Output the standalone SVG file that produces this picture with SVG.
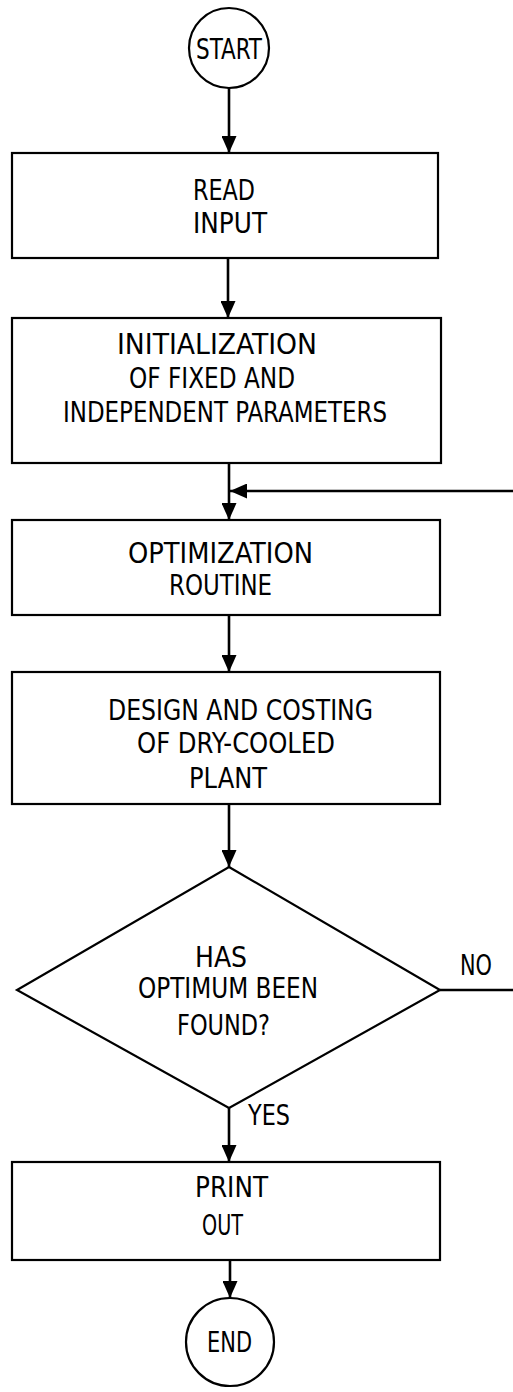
<svg xmlns="http://www.w3.org/2000/svg" width="513" height="1392" viewBox="0 0 513 1392">
  <style>
    .shape { fill: #fff; stroke: #000; stroke-width: 2.2; }
    .wire { fill: none; stroke: #000; stroke-width: 2.6; }
    .label { font-family: "Liberation Sans Narrow", "DejaVu Sans Condensed", "Liberation Sans", sans-serif; font-size: 28px; fill: #000; }
  </style>
  <defs>
    <marker id="arrow" markerUnits="userSpaceOnUse" markerWidth="17" markerHeight="15" refX="17" refY="7.5" orient="auto">
      <path d="M0,0 L17,7.5 L0,15 z" fill="#000"/>
    </marker>
  </defs>
  <rect width="513" height="1392" fill="#fff"/>

  <g id="connectors">
    <line class="wire" x1="229" y1="88" x2="229" y2="153" marker-end="url(#arrow)"/>
    <line class="wire" x1="228" y1="258" x2="228" y2="318" marker-end="url(#arrow)"/>
    <line class="wire" x1="229" y1="463" x2="229" y2="520" marker-end="url(#arrow)"/>
    <line class="wire" x1="513" y1="491" x2="230" y2="491" marker-end="url(#arrow)"/>
    <line class="wire" x1="229" y1="615" x2="229" y2="672" marker-end="url(#arrow)"/>
    <line class="wire" x1="229" y1="804" x2="229" y2="867" marker-end="url(#arrow)"/>
    <line class="wire" x1="440" y1="990" x2="513" y2="990"/>
    <line class="wire" x1="229" y1="1108" x2="229" y2="1162" marker-end="url(#arrow)"/>
    <line class="wire" x1="230" y1="1260" x2="230" y2="1298" marker-end="url(#arrow)"/>
  </g>

  <g id="start">
    <circle class="shape" cx="229" cy="48" r="40"/>
    <text class="label" x="196" y="59" textLength="66" lengthAdjust="spacingAndGlyphs">START</text>
  </g>

  <g id="read-input">
    <rect class="shape" x="12" y="153" width="426" height="105"/>
    <text class="label" x="193" y="200" textLength="62" lengthAdjust="spacingAndGlyphs">READ</text>
    <text class="label" x="193" y="233" textLength="74" lengthAdjust="spacingAndGlyphs">INPUT</text>
  </g>

  <g id="initialization">
    <rect class="shape" x="12" y="318" width="429" height="145"/>
    <text class="label" x="117" y="354" textLength="200" lengthAdjust="spacingAndGlyphs">INITIALIZATION</text>
    <text class="label" x="129" y="388" textLength="166" lengthAdjust="spacingAndGlyphs">OF FIXED AND</text>
    <text class="label" x="63" y="422" textLength="324" lengthAdjust="spacingAndGlyphs">INDEPENDENT PARAMETERS</text>
  </g>

  <g id="optimization">
    <rect class="shape" x="12" y="520" width="428" height="95"/>
    <text class="label" x="128" y="563" textLength="185" lengthAdjust="spacingAndGlyphs">OPTIMIZATION</text>
    <text class="label" x="169" y="595" textLength="103" lengthAdjust="spacingAndGlyphs">ROUTINE</text>
  </g>

  <g id="design">
    <rect class="shape" x="12" y="672" width="428" height="132"/>
    <text class="label" x="108" y="720" textLength="265" lengthAdjust="spacingAndGlyphs">DESIGN AND COSTING</text>
    <text class="label" x="137" y="753" textLength="198" lengthAdjust="spacingAndGlyphs">OF DRY-COOLED</text>
    <text class="label" x="189" y="788" textLength="78" lengthAdjust="spacingAndGlyphs">PLANT</text>
  </g>

  <g id="decision">
    <polygon class="shape" points="229,867 440,990 229,1108 17,990"/>
    <text class="label" x="195" y="967" textLength="52" lengthAdjust="spacingAndGlyphs">HAS</text>
    <text class="label" x="138" y="998" textLength="180" lengthAdjust="spacingAndGlyphs">OPTIMUM BEEN</text>
    <text class="label" x="177" y="1035" textLength="93" lengthAdjust="spacingAndGlyphs">FOUND?</text>
    <text class="label" x="460" y="975" textLength="32" lengthAdjust="spacingAndGlyphs">NO</text>
    <text class="label" x="248" y="1125" textLength="42" lengthAdjust="spacingAndGlyphs">YES</text>
  </g>

  <g id="print-out">
    <rect class="shape" x="12" y="1162" width="428" height="98"/>
    <text class="label" x="195" y="1197" textLength="73" lengthAdjust="spacingAndGlyphs">PRINT</text>
    <text class="label" x="202" y="1235" textLength="41" lengthAdjust="spacingAndGlyphs">OUT</text>
  </g>

  <g id="end">
    <circle class="shape" cx="230" cy="1342" r="44"/>
    <text class="label" x="207" y="1352" textLength="45" lengthAdjust="spacingAndGlyphs">END</text>
  </g>
</svg>
